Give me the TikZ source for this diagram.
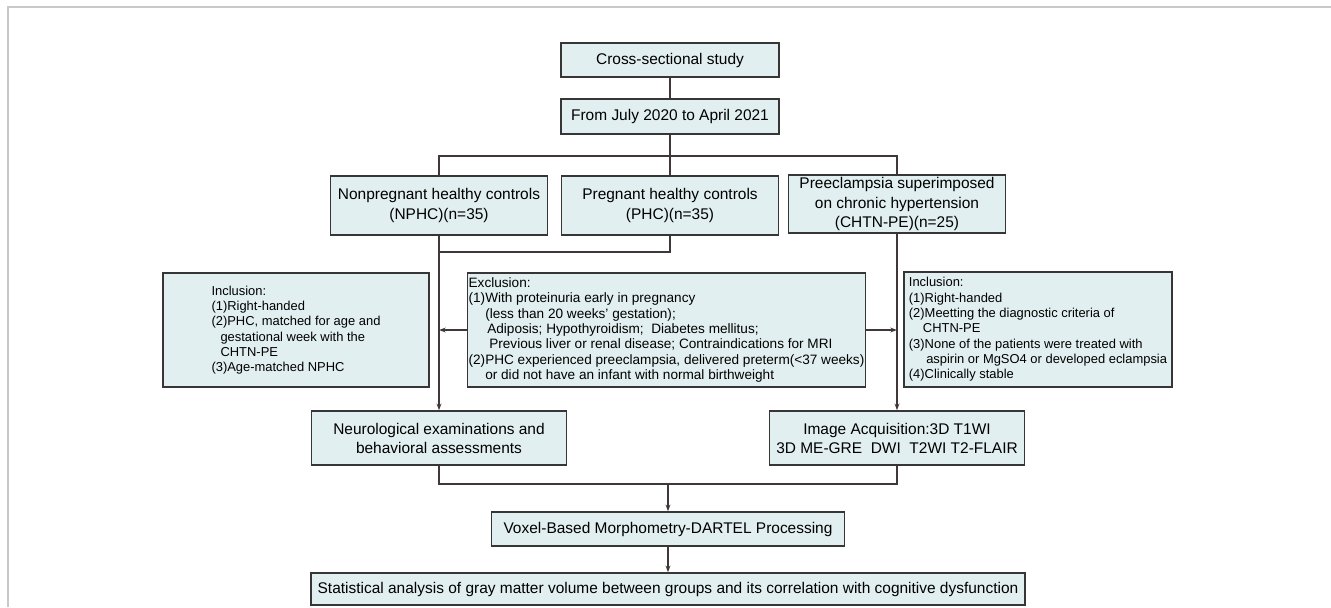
\documentclass[tikz,border=0pt]{standalone}
\usepackage{fontspec}
\setmainfont{Liberation Sans}
\usetikzlibrary{arrows.meta}
\definecolor{boxfill}{HTML}{E2EFF0}
\definecolor{boxline}{HTML}{363636}
\definecolor{flowline}{HTML}{403838}
\definecolor{framegray}{HTML}{C8C8C8}
\tikzset{
    stage/.style={draw=boxline, fill=boxfill, line width=1.1pt, align=center, inner sep=2pt,
        font=\fontsize{11.6}{14.3}\selectfont},
    criteria/.style={stage, align=left, font=\fontsize{9.7}{11.5}\selectfont},
    flow/.style={draw=flowline, line width=0.9pt},
    flowarrow/.style={flow, -{Stealth[length=5pt,width=3.6pt]}},
}
\begin{document}
\begin{tikzpicture}[x=0.75pt,y=-0.75pt]
    \useasboundingbox (0,0) rectangle (1331,607);
    \draw[framegray, line width=1.5pt] (8,607) -- (8,7.3) -- (1331,7.3);
    % study design and groups
    \node[stage, minimum width=163.5pt, minimum height=25.5pt] (cross) at (670,60) {Cross-sectional study};
    \node[stage, minimum width=163.5pt, minimum height=26.25pt] (period) at (670,116.5) {From July 2020 to April 2021};
    \node[stage, minimum width=162.75pt, minimum height=44.25pt] (nphc) at (439,205.5) {Nonpregnant healthy controls\\(NPHC)(n=35)};
    \node[stage, minimum width=162.75pt, minimum height=44.25pt] (phc) at (670,205.5) {Pregnant healthy controls\\(PHC)(n=35)};
    \node[stage, minimum width=162.75pt, minimum height=43.5pt] (chtn) at (897,204) {Preeclampsia superimposed\\on chronic hypertension\\(CHTN-PE)(n=25)};
    % criteria
    \node[criteria, minimum width=199.5pt, minimum height=85.5pt] (inclL) at (296,330) {Inclusion:\\
        (1)Right-handed\\
        (2)PHC, matched for age and\\
        \hspace*{6.75pt}gestational week with the\\
        \hspace*{6.75pt}CHTN-PE\\
        (3)Age-matched NPHC};
    \node[criteria, inner sep=1pt, minimum width=294.75pt, minimum height=85.5pt,
        font=\fontsize{10.2}{11.5}\selectfont] (excl) at (666.5,330) {Exclusion:\\
        (1)With proteinuria early in pregnancy\\
        \hspace*{12.5pt}(less than 20 weeks' gestation);\\
        \hspace*{14pt}Adiposis; Hypothyroidism;\ \ Diabetes mellitus;\\
        \hspace*{15.5pt}Previous liver or renal disease; Contraindications for MRI\\
        (2)PHC experienced preeclampsia, delivered preterm(<37 weeks)\\
        \hspace*{12.5pt}or did not have an infant with normal birthweight};
    \node[criteria, minimum width=201pt, minimum height=86.25pt] (inclR) at (1038,329.5) {Inclusion:\\
        (1)Right-handed\\
        (2)Meetting the diagnostic criteria of\\
        \hspace*{10.5pt}CHTN-PE\\
        (3)None of the patients were treated with\\
        \hspace*{13pt}aspirin or MgSO4 or developed eclampsia\\
        (4)Clinically stable};
    % assessments and analysis
    \node[stage, minimum width=191.25pt, minimum height=40.5pt] (neuro) at (439,438) {Neurological examinations and\\behavioral assessments};
    \node[stage, minimum width=191.25pt, minimum height=40.5pt] (image) at (897,438) {Image Acquisition:3D T1WI\\3D ME-GRE\ \ DWI\ \ T2WI T2-FLAIR};
    \node[stage, minimum width=264.75pt, minimum height=25.5pt] (voxel) at (668,529) {Voxel-Based Morphometry-DARTEL Processing};
    \node[stage, minimum width=535.5pt, minimum height=24pt] (stat) at (668,589) {Statistical analysis of gray matter volume between groups and its correlation with cognitive dysfunction};
    % connectors
    \coordinate (split) at (670,156);
    \coordinate (join) at (439,252);
    \coordinate (merge) at (668,484);
    \draw[flow] (cross) -- (period);
    \draw[flow] (period.south) -- (phc.north);
    \draw[flow] (nphc.north) |- (split) -| (chtn.north);
    \draw[flow] (phc.south) |- (join);
    \draw[flowarrow] (nphc.south) -- (neuro.north);
    \draw[flowarrow] (chtn.south) -- (image.north);
    \draw[flowarrow] (excl.west) -- (excl.west -| nphc.south);
    \draw[flowarrow] (excl.east) -- (excl.east -| chtn.south);
    \draw[flow] (neuro.south) |- (merge) -| (image.south);
    \draw[flowarrow] (merge) -- (voxel.north);
    \draw[flowarrow] (voxel) -- (stat);
\end{tikzpicture}
\end{document}
